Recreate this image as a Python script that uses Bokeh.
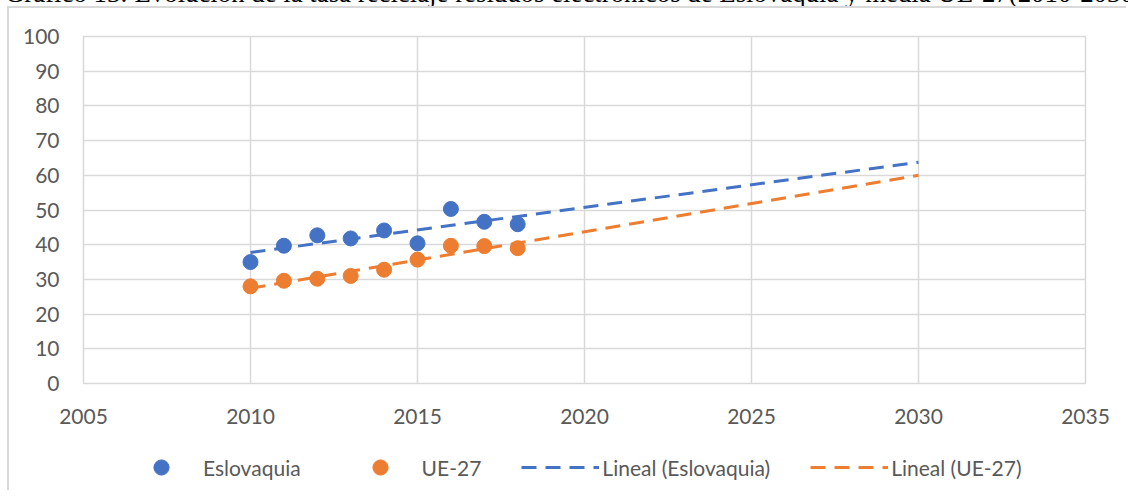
import numpy as np
from bokeh.plotting import figure
from bokeh.models import Div, Legend, LegendItem, FixedTicker, Range1d
from bokeh.layouts import column
from bokeh.embed import file_html
from bokeh.resources import INLINE

title_text = "Gráfico 13: Evolución de la tasa reciclaje residuos electrónicos de Eslovaquia y media UE-27(2010-2030)"
years = [2010, 2011, 2012, 2013, 2014, 2015, 2016, 2017, 2018]
eslovaquia = [35.0, 39.7, 42.7, 41.8, 44.1, 40.4, 50.3, 46.6, 45.9]
ue27 = [28.0, 29.6, 30.2, 31.0, 32.8, 35.7, 39.7, 39.6, 39.0]
trend_years = [2010, 2030]
x_ticks = [2005, 2010, 2015, 2020, 2025, 2030, 2035]
y_ticks = [0, 10, 20, 30, 40, 50, 60, 70, 80, 90, 100]
series_names = ["Eslovaquia", "UE-27", "Lineal (Eslovaquia)", "Lineal (UE-27)"]

BLUE = "#4472C4"
ORANGE = "#ED7D31"
GRID = "#d9d9d9"
TEXT = "#595959"
FONT = "Lato"

p = figure(width=1119, height=440, output_backend="svg", toolbar_location=None,
           x_range=Range1d(2005, 2035), y_range=Range1d(0, 100),
           min_border_left=74, min_border_right=43, min_border_top=28, min_border_bottom=65,
           styles={"border-left": f"2px solid {GRID}", "border-top": f"2px solid {GRID}"})
p.outline_line_color = GRID
p.outline_line_width = 1.5

for ax, ticks in ((p.xaxis, x_ticks), (p.yaxis, y_ticks)):
    ax.ticker = FixedTicker(ticks=ticks)
    ax.axis_line_color = None
    ax.major_tick_line_color = None
    ax.minor_tick_line_color = None
    ax.major_label_text_font = FONT
    ax.major_label_text_font_size = "21px"
    ax.major_label_text_color = TEXT
p.xaxis.major_label_standoff = 19
p.yaxis.major_label_standoff = 18
p.xgrid.ticker = FixedTicker(ticks=x_ticks)
p.ygrid.ticker = FixedTicker(ticks=y_ticks)
for g in (p.xgrid, p.ygrid):
    g.grid_line_color = GRID
    g.grid_line_width = 1.5

# Linear trend lines fitted from the data
def trend(xs, ys):
    m, b = np.polyfit(xs, ys, 1)
    return [m * t + b for t in trend_years]

trend_e = trend(years, eslovaquia)
trend_u = trend(years, ue27)

def draw(fig):
    a = fig.line(trend_years, trend_e, line_color=BLUE, line_width=3, line_dash="15 9")
    b = fig.line(trend_years, trend_u, line_color=ORANGE, line_width=3, line_dash="15 9")
    c = fig.scatter(years, eslovaquia, size=15, color=BLUE)
    d = fig.scatter(years, ue27, size=15, color=ORANGE)
    return [c, d, a, b]

draw(p)

# legend strip (separate canvas so that it is not clipped by the plot frame);
# its ranges keep the same series out of view, only the legend shows
lf = figure(width=1119, height=44, output_backend="svg", toolbar_location=None,
            x_axis_type=None, y_axis_type=None, min_border=0,
            x_range=Range1d(0, 1), y_range=Range1d(-2, -1),
            styles={"border-left": f"2px solid {GRID}"})
lf.outline_line_color = None
lrs = draw(lf)

legend = Legend(items=[LegendItem(label=n, renderers=[r]) for n, r in zip(series_names, lrs)],
                orientation="horizontal", location=(39, 4), glyph_width=78, glyph_height=38,
                label_height=38, label_standoff=3, spacing=40, padding=0, margin=0,
                border_line_color=None, background_fill_alpha=0,
                label_text_font=FONT, label_text_font_size="21px", label_text_color=TEXT)
lf.add_layout(legend, "center")

title = Div(text=f'<span style="position:relative;left:-7px;top:3px">{title_text}</span>', width=1121, height=22,
            styles={"font-family": "Liberation Serif", "font-size": "26.8px", "line-height": "22px",
                    "color": "black", "white-space": "nowrap", "overflow": "visible"})

layout = column(title, p, lf, styles={"margin-top": "-26px", "position": "relative", "left": "7px"})

open("out.html", "w").write(file_html(layout, INLINE))
